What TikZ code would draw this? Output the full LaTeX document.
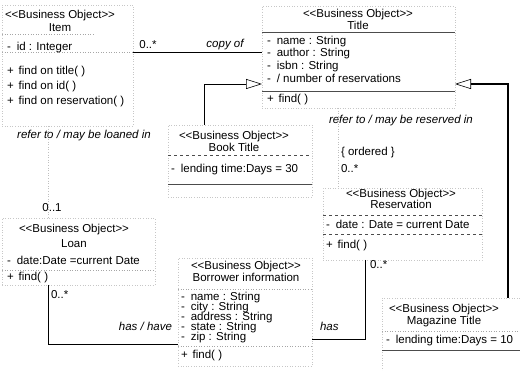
\documentclass[tikz,border=0pt]{standalone}
\usepackage{fontspec}
\setmainfont{Liberation Sans}
\usetikzlibrary{arrows.meta}
\newcommand\bobj{<\kern0pt<Business Object>\kern0pt>}
\newcommand\dsh{-\hspace{6pt}}
\newcommand\pls{+\hspace{5pt}}
\begin{document}
\begin{tikzpicture}[x=1pt,y=-1pt,
  every node/.style={inner sep=0pt, outer sep=0pt, text height=8pt, text depth=2pt,
    font=\fontsize{11.5}{13}\selectfont},
  lft/.style={anchor=west},
  itl/.style={font=\fontsize{11.5}{13}\selectfont\itshape},
  umlbox/.style={draw=black!22, dotted, line width=0.6pt},
  sepline/.style={draw=black!70, line width=0.5pt},
  faintsep/.style={draw=black!35, dotted, line width=0.6pt},
  faintln/.style={draw=black!25, dotted, line width=0.6pt},
  assoc/.style={draw=black, line width=0.6pt},
  gen/.style={draw=black, line width=0.6pt, -{Triangle[open, length=16pt, width=10pt, line width=0.6pt]}}]
\useasboundingbox (0,0) rectangle (520,371);

% ---------- boxes ----------
\node[umlbox, minimum width=131pt, minimum height=121pt] (item) at (67.5,65.5) {};
\node[umlbox, minimum width=193pt, minimum height=102pt] (title) at (358.5,57) {};
\node[umlbox, minimum width=144pt, minimum height=72pt] (book) at (240,161) {};
\node[umlbox, minimum width=153pt, minimum height=67pt] (loan) at (78.5,251.5) {};
\node[umlbox, minimum width=159pt, minimum height=72pt] (res) at (402.5,224) {};
\node[umlbox, minimum width=134pt, minimum height=108pt] (borrow) at (245,312) {};
\node[umlbox, minimum width=145pt, minimum height=82pt] (mag) at (454.5,339) {};

% ---------- compartment lines ----------
\draw[faintsep] (2,34) -- (95,34);
\draw[faintsep] (2,52) -- (133,52);
\draw[sepline] (262,32) -- (455,32);
\draw[sepline] (262,91) -- (455,91);
\draw[sepline, dashed] (168,155) -- (312,155);
\draw[sepline] (168,184) -- (312,184);
\draw[faintsep] (2,270) -- (155,270);
\draw[sepline, dashed] (323,215) -- (482,215);
\draw[sepline, dashed] (323,234) -- (482,234);
\draw[faintsep] (178,289) -- (312,289);
\draw[faintsep] (178,346) -- (312,346);
\draw[faintsep] (382,331) -- (520,331);
\draw[sepline] (382,350) -- (520,350);

% ---------- Item ----------
\node (itemst) at (60,16) {\bobj};
\node (itemnm) at (60,29) {Item};
\node[lft] (itemid) at (7,48) {\dsh id : Integer};
\node[lft] (itemop1) at (7,72) {\pls find on title( )};
\node[lft] (itemop2) at (7,87) {\pls find on id( )};
\node[lft] (itemop3) at (7,102) {\pls find on reservation( )};

% ---------- Title ----------
\node (titlest) at (358,15) {\bobj};
\node (titlenm) at (358,27) {Title};
\node[lft] (ta1) at (267,42) {\dsh name : String};
\node[lft] (ta2) at (267,54) {\dsh author : String};
\node[lft] (ta3) at (267,67) {\dsh isbn : String};
\node[lft] (ta4) at (267,80) {\dsh / number of reservations};
\node[lft] (top1) at (267,100) {\pls find( )};

% ---------- Book Title ----------
\node (bookst) at (234,137) {\bobj};
\node (booknm) at (234,149) {Book Title};
\node[lft] (ba1) at (171,170) {\dsh lending time:Days = 30};

% ---------- Loan ----------
\node (loanst) at (74,230) {\bobj};
\node (loannm) at (74,245) {Loan};
\node[lft] (la1) at (7,262) {\dsh date:Date =current Date};
\node[lft] (lo1) at (7,278) {\pls find( )};

% ---------- Borrower information ----------
\node (borst) at (246,267) {\bobj};
\node (bornm) at (246,279) {Borrower information};
\node[lft] (bra1) at (181,298) {\dsh name : String};
\node[lft] (bra2) at (181,308) {\dsh city : String};
\node[lft] (bra3) at (181,318) {\dsh address : String};
\node[lft] (bra4) at (181,328) {\dsh state : String};
\node[lft] (bra5) at (181,338) {\dsh zip : String};
\node[lft] (bro1) at (181,356) {\pls find( )};

% ---------- Reservation ----------
\node (resst) at (401,195) {\bobj};
\node (resnm) at (401,206) {Reservation};
\node[lft] (ra1) at (326,226) {\dsh date : Date = current Date};
\node[lft] (ro1) at (326,246) {\pls find( )};

% ---------- Magazine Title ----------
\node (magst) at (444,310) {\bobj};
\node (magnm) at (444,322) {Magazine Title};
\node[lft] (ma1) at (386,341) {\dsh lending time:Days = 10};

% ---------- labels ----------
\node (cpmult) at (148,46) {0..*};
\node[itl] (cpof) at (225,45) {copy of};
\node[itl] (loanedin) at (84,136) {refer to / may be loaned in};
\node[lft, itl] (reservedin) at (329,121) {refer to / may be reserved in};
\node[lft] (ordered) at (341,153) {\{ ordered \}};
\node[lft] (resmult) at (341,170) {0..*};
\node (loanmult) at (52,209) {0..1};
\node[lft] (loanmany) at (51,296) {0..*};
\node[itl, anchor=east] (hashave) at (172,328) {has / have};
\node[lft, itl] (has) at (320,328) {has};
\node[lft] (borrmult) at (370,266) {0..*};

% ---------- helper coordinates ----------
\coordinate (cy) at (0,52);
\coordinate (gy) at (0,84);
\coordinate (bkx) at (204,0);
\coordinate (mgx) at (508,0);
\coordinate (lx) at (48,0);
\coordinate (rx) at (365,0);
\coordinate (tx) at (338,0);
\coordinate (hy1) at (0,344);
\coordinate (hy2) at (0,339);

% ---------- connectors ----------
\draw[assoc] (item.east |- cy) -- (title.west |- cy);
\draw[gen] (book.north -| bkx) |- (title.west |- gy);
\draw[gen, line width=1.3pt] (mag.north -| mgx) |- (title.east |- gy);
\draw[faintln] (item.south -| lx) -- (loan.north -| lx);
\draw[faintln] (title.south -| tx) -- (res.north -| tx);
\draw[assoc] (loan.south -| lx) |- (borrow.west |- hy1);
\draw[assoc] (res.south -| rx) |- (borrow.east |- hy2);
\end{tikzpicture}
\end{document}
